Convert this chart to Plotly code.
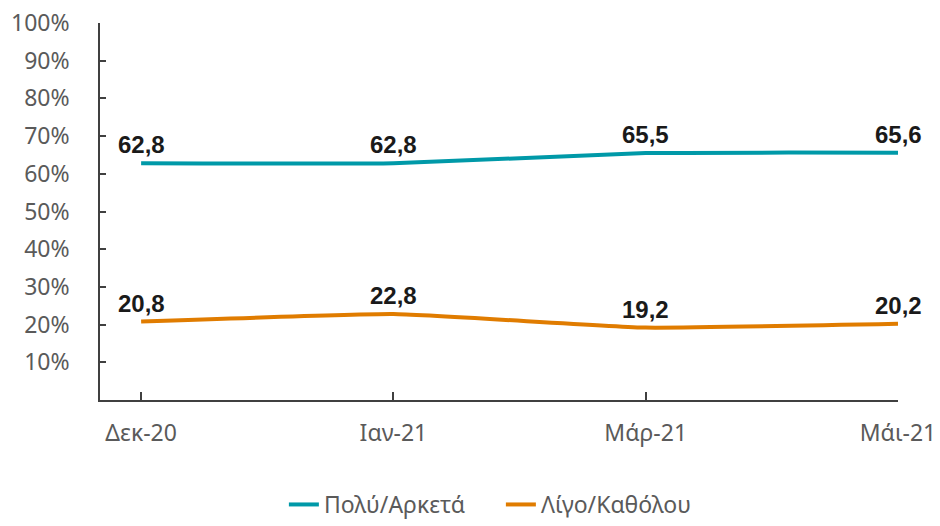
import plotly.graph_objects as go

# Survey waves and share of answers (%)
months = ["Δεκ-20", "Ιαν-21", "Μάρ-21", "Μάι-21"]
much_enough = [62.8, 62.8, 65.5, 65.6]
little_none = [20.8, 22.8, 19.2, 20.2]

y_ticks = list(range(0, 101, 10))
y_ticktext = [""] + [f"{v}%" for v in y_ticks[1:]]

series = [
    ("Πολύ/Αρκετά", much_enough, "#0099A8"),
    ("Λίγο/Καθόλου", little_none, "#E07C00"),
]

x_pos = list(range(len(months)))

fig = go.Figure()
annotations = []
for name, vals, color in series:
    fig.add_trace(go.Scatter(
        x=x_pos,
        y=vals,
        name=name,
        mode="lines",
        line=dict(color=color, width=4, shape="spline", smoothing=0.35),
        cliponaxis=False,
        hoverinfo="skip",
    ))
    for xi, v in zip(x_pos, vals):
        annotations.append(dict(
            x=xi, y=v, xref="x", yref="y",
            text=f"<b>{v:.1f}</b>".replace(".", ","),
            showarrow=False,
            yanchor="bottom",
            yshift=3,
            font=dict(family="Liberation Sans", size=24, color="#1a1a1a"),
        ))

fig.update_layout(
    width=940,
    height=526,
    margin=dict(l=100, r=42, t=23, b=126, autoexpand=False),
    plot_bgcolor="white",
    paper_bgcolor="white",
    font=dict(family="Noto Sans", size=23, color="#5a5a5a"),
    showlegend=True,
    annotations=annotations,
    legend=dict(
        orientation="h",
        x=0.302,
        xanchor="left",
        xref="container",
        y=-0.028,
        yanchor="bottom",
        yref="container",
        font=dict(family="Noto Sans", size=23, color="#5a5a5a"),
        itemwidth=30,
        entrywidth=172,
        entrywidthmode="pixels",
        tracegroupgap=0,
    ),
)

fig.update_xaxes(
    range=[-0.163, 3],
    tickmode="array",
    tickvals=x_pos,
    ticktext=months,
    showgrid=False,
    zeroline=False,
    showline=True,
    linecolor="#404040",
    linewidth=1.5,
    ticks="inside",
    ticklen=8,
    tickcolor="#404040",
    tickwidth=1.5,
    ticklabelstandoff=12,
)

fig.update_yaxes(
    range=[0, 100],
    tickmode="array",
    tickvals=y_ticks,
    ticktext=y_ticktext,
    showgrid=False,
    zeroline=False,
    showline=True,
    linecolor="#404040",
    linewidth=1.5,
    ticks="inside",
    ticklen=6,
    tickcolor="#404040",
    tickwidth=1.5,
    ticklabelstandoff=24,
)

fig.write_html("out.html")
